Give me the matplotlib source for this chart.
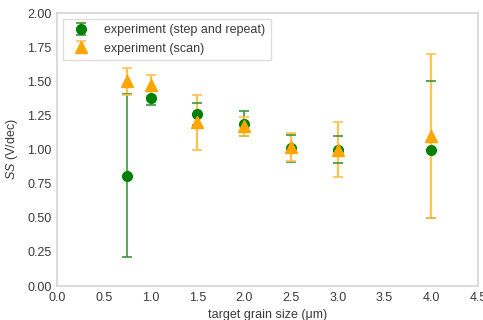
import matplotlib
matplotlib.use("Agg")
import matplotlib.pyplot as plt

plt.rcParams['font.family'] = ['Liberation Sans', 'DejaVu Sans']
plt.rcParams['mathtext.fontset'] = 'custom'
plt.rcParams['mathtext.it'] = 'Liberation Sans:italic'
plt.rcParams['mathtext.rm'] = 'Liberation Sans'

grain = [0.75, 1.0, 1.5, 2.0, 2.5, 3.0, 4.0]
ss_step = [0.81, 1.38, 1.26, 1.19, 1.01, 1.00, 1.00]
err_step = [0.60, 0.055, 0.08, 0.09, 0.10, 0.10, 0.50]
ss_scan = [1.50, 1.47, 1.20, 1.17, 1.02, 1.00, 1.10]
err_scan = [0.10, 0.08, 0.20, 0.07, 0.10, 0.20, 0.60]

xticks = [0.0, 0.5, 1.0, 1.5, 2.0, 2.5, 3.0, 3.5, 4.0, 4.5]
yticks = [0.00, 0.25, 0.50, 0.75, 1.00, 1.25, 1.50, 1.75, 2.00]

fig = plt.figure(figsize=(4.83, 3.2), dpi=100)
ax = fig.add_axes([0.118, 0.106, 0.872, 0.853])

eb1 = ax.errorbar(grain, ss_step, yerr=err_step, fmt='o', color='green', ecolor='#3c963c',
                  markersize=7, capsize=3.5, elinewidth=1.2, capthick=1.2,
                  label='experiment (step and repeat)')
eb2 = ax.errorbar(grain, ss_scan, yerr=err_scan, fmt='^', color='orange', ecolor='#ffc24d',
                  markersize=8, capsize=3.5, elinewidth=1.6, capthick=1.2,
                  label='experiment (scan)')
# layering: bars, then caps, then markers
for c in eb1[2]:
    c.set_zorder(2.0)
for c in eb2[2]:
    c.set_zorder(2.1)
for c in eb1[1]:
    c.set_zorder(2.2)
for c in eb2[1]:
    c.set_zorder(2.3)
eb1[0].set_zorder(3.0)
eb2[0].set_zorder(3.1)

ax.set_xlim(0, 4.5)
ax.set_ylim(0, 2)
ax.set_xticks(xticks)
ax.set_yticks(yticks)
ax.set_xticklabels([f'{v:.1f}' for v in xticks])
ax.set_yticklabels([f'{v:.2f}' for v in yticks])
ax.tick_params(length=0, labelsize=9, colors='#3a3a3a', pad=4)
for s in ax.spines.values():
    s.set_color('#d5d5d5')
    s.set_linewidth(1.2)
ax.set_xlabel('target grain size (μm)', fontsize=9, color='#3a3a3a', labelpad=4)
ax.set_ylabel('$SS$ (V/dec)', fontsize=9, color='#3a3a3a', labelpad=5)
leg = ax.legend(loc='upper left', fontsize=9, frameon=True, fancybox=False, borderpad=0.4,
                handletextpad=0.9, labelspacing=0.5)
leg.get_frame().set_edgecolor('#d5d5d5')
for t in leg.get_texts():
    t.set_color('#3a3a3a')

fig.savefig('out.png', dpi=100)
